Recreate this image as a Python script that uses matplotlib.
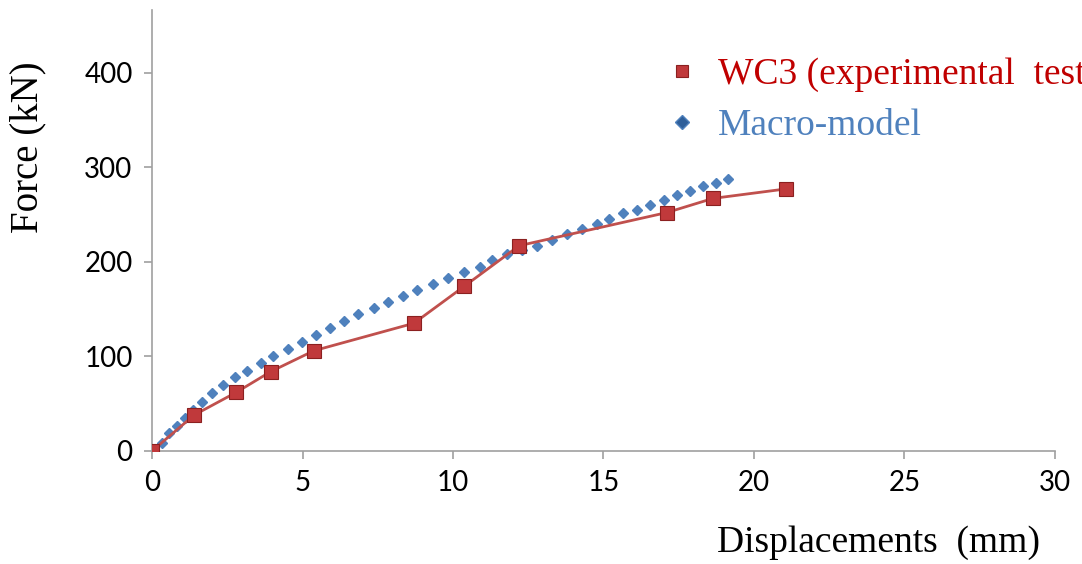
"""force-displacement curve, WC3 test vs macro-model"""

import numpy as np
import matplotlib.pyplot as plt

#%% data
disp_exp = [0, 1.4, 2.8, 3.95, 5.38, 8.7, 10.37, 12.2, 17.1, 18.64, 21.06]
force_exp = [0, 38, 62, 84, 106, 135, 174, 217, 252, 267, 277]

disp_mod = [0, 0.32, 0.57, 0.82, 1.10, 1.35, 1.67, 1.98, 2.37, 2.76, 3.17, 3.61, 4.03,
            4.51, 4.99, 5.45, 5.91, 6.39, 6.85, 7.38, 7.83, 8.35, 8.81, 9.33, 9.83,
            10.37, 10.90, 11.29, 11.80, 12.29, 12.80, 13.28, 13.78, 14.28, 14.77,
            15.19, 15.66, 16.10, 16.54, 17.01, 17.45, 17.87, 18.30, 18.73, 19.15]
force_mod = [0, 8.1, 18.7, 26.5, 35.2, 43.4, 52.2, 61.1, 69.8, 78.0, 84.7, 92.8, 100.8,
             107.9, 115.7, 122.8, 129.8, 137.9, 144.7, 151.3, 158.0, 163.7, 170.4, 177.0,
             183.0, 189.0, 194.4, 202.1, 208.1, 212.7, 217.2, 223.3, 229.6, 234.9, 240.2,
             245.2, 251.1, 255.0, 260.3, 265.6, 270.2, 275.1, 279.7, 283.3, 287.5]

x_ticks = [0, 5, 10, 15, 20, 25, 30]
y_ticks = [0, 100, 200, 300, 400]

#%% plot
fig = plt.figure(figsize=(10.82, 5.64), dpi=100)
ax = fig.add_axes([0.1405, 0.2004, 0.8345, 0.7816])

ax.plot(disp_mod, force_mod, ls='none', marker='D', ms=5, color='#4F81BD',
        mec='#4F81BD', label='Macro-model', zorder=2)
ax.plot(disp_exp, force_exp, color='#C0504D', lw=2, marker='s', ms=9.5,
        mfc='#C0393B', mec='#8B2020', mew=0.8, label='WC3 (experimental  test)', zorder=3)

ax.set_xlim(0, 30)
ax.set_ylim(0, 466)
ax.set_xticks(x_ticks)
ax.set_yticks(y_ticks)

for side in ['top', 'right']:
    ax.spines[side].set_visible(False)
for side in ['left', 'bottom']:
    ax.spines[side].set_color('#A0A0A0')
    ax.spines[side].set_linewidth(1.2)
ax.tick_params(direction='out', length=6, color='#A0A0A0', width=1.2,
               labelsize=20, pad=8)
for lab in ax.get_xticklabels() + ax.get_yticklabels():
    lab.set_fontfamily('Lato')

fig.text(0.961, 0.037, 'Displacements  (mm)', ha='right', va='center',
         family='Liberation Serif', fontsize=27)
fig.text(0.026, 0.739, 'Force (kN)', ha='center', va='center', rotation=90,
         family='Liberation Serif', fontsize=28)

# legend runs off the right edge, as in the original figure
h, l = ax.get_legend_handles_labels()
leg = ax.legend(h[::-1], l[::-1], loc='upper left', bbox_to_anchor=(0.585, 0.958),
                bbox_transform=fig.transFigure, frameon=False, handlelength=0.8,
                handletextpad=0.56, labelspacing=0.45,
                prop={'family': 'Liberation Serif', 'size': 27})
leg.legend_handles[0].set_linestyle('none')
leg.legend_handles[0].set_markersize(8)
leg.legend_handles[1].set_markersize(7)
leg.legend_handles[1].set_color('#2E5F9A')
leg.get_texts()[0].set_color('#C00000')
leg.get_texts()[1].set_color('#4F81BD')

plt.savefig('out.png', dpi=100)
